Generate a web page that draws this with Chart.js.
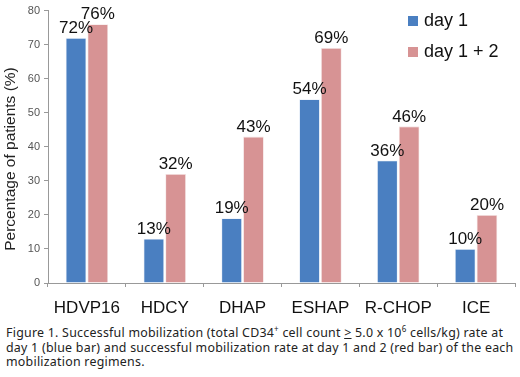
<html>
<head>
<script src="https://cdn.jsdelivr.net/npm/chart.js@4.4.1/dist/chart.umd.min.js"></script>
<style>
  body { margin: 0; background: #fff; width: 520px; height: 377px; overflow: hidden; position: relative; }
  #wrap { position: absolute; left: 0; top: 0; width: 520px; height: 322px; }
  #caption {
    position: absolute; left: 6px; top: 326px; width: 514px;
    font-family: "Noto Sans", sans-serif; font-size: 12.4px; letter-spacing: 0.25px; line-height: 14.5px; color: #222;
  }
  #caption sup { font-size: 8px; line-height: 0; }
  .ge { text-decoration: underline; }
</style>
</head>
<body>
<div id="wrap"><canvas id="chart"></canvas></div>
<div id="caption">Figure 1. Successful mobilization (total CD34<sup>+</sup> cell count <span class="ge">&gt;</span> 5.0 x 10<sup>6</sup> cells/kg) rate at day 1 (blue bar) and successful mobilization rate at day 1 and 2 (red bar) of the each mobilization regimens.</div>

<script>
  // regimens and mobilization rates (%)
  var regimens = ["HDVP16", "HDCY", "DHAP", "ESHAP", "R-CHOP", "ICE"];
  var day1 = [72, 13, 19, 54, 36, 10];
  var day12 = [76, 32, 43, 69, 46, 20];
  var yTicks = [0, 10, 20, 30, 40, 50, 60, 70, 80];
  var yTitle = "Percentage of patients (%)";

  var blue = "#4a7fc1";
  var red = "#d79394";
  var font = "'Liberation Sans', Arial, sans-serif";

  // percent labels over each bar
  var barLabels = {
    id: "barLabels",
    afterDatasetsDraw: function(chart) {
      var ctx = chart.ctx;
      ctx.save();
      ctx.font = "17px " + font;
      ctx.fillStyle = "#111";
      ctx.textAlign = "center";
      ctx.textBaseline = "bottom";
      chart.data.datasets.forEach(function(ds, i) {
        chart.getDatasetMeta(i).data.forEach(function(bar, j) {
          ctx.fillText(ds.data[j] + "%", bar.x, bar.y - 1);
        });
      });
      ctx.restore();
    }
  };

  // legend inside the plot (top right) and the y title, a bit below centre like the original
  var extras = {
    id: "extras",
    afterDraw: function(chart) {
      var ctx = chart.ctx;
      ctx.save();
      ctx.font = "18px " + font;
      ctx.textBaseline = "middle";
      chart.data.datasets.forEach(function(ds, i) {
        var y = 21 + i * 31;
        ctx.fillStyle = ds.backgroundColor;
        ctx.fillRect(408, y - 5, 10, 10);
        ctx.fillStyle = "#111";
        ctx.fillText(ds.label, 424, y);
      });

      ctx.translate(11, 159);
      ctx.rotate(-Math.PI / 2);
      ctx.textAlign = "center";
      ctx.font = "15.5px " + font;
      ctx.fillStyle = "#222";
      ctx.fillText(yTitle, 0, 0);
      ctx.restore();
    }
  };

  new Chart(document.getElementById("chart"), {
    type: "bar",
    data: {
      labels: regimens,
      datasets: [
        { label: "day 1", data: day1, backgroundColor: blue, borderColor: "#e6eef8", borderWidth: 0.8 },
        { label: "day 1 + 2", data: day12, backgroundColor: red, borderColor: "#f5e4e4", borderWidth: 0.8 }
      ]
    },
    options: {
      responsive: true,
      maintainAspectRatio: false,
      animation: false,
      layout: { padding: { top: 5, right: 5, left: 0, bottom: 0 } },
      categoryPercentage: 0.56,
      barPercentage: 0.95,
      plugins: {
        legend: { display: false },
        tooltip: { enabled: false }
      },
      scales: {
        x: {
          grid: { drawOnChartArea: false, color: "#999", tickLength: 4, offset: true },
          border: { color: "#999" },
          ticks: {
            color: "#111",
            padding: 11,
            font: { family: font, size: 17 }
          },
          afterFit: function(s) { s.height = 39; }
        },
        y: {
          min: 0,
          max: 80,
          afterBuildTicks: function(s) { s.ticks = yTicks.map(function(v) { return { value: v }; }); },
          grid: { drawOnChartArea: false, color: "#999", tickLength: 4 },
          border: { color: "#999" },
          ticks: {
            color: "#555",
            padding: 4,
            font: { family: font, size: 11 }
          },
          afterFit: function(s) { s.width = 48; }
        }
      }
    },
    plugins: [barLabels, extras]
  });
</script>
</body>
</html>
